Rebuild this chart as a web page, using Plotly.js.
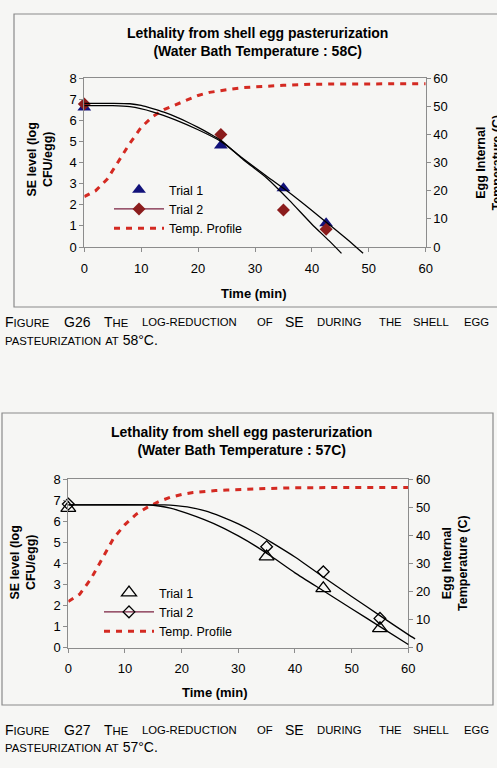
<!DOCTYPE html>
<html><head><meta charset="utf-8">
<script src="https://cdn.plot.ly/plotly-3.0.1.min.js"></script>
<style>html,body{margin:0;padding:0;background:#f6f6f4;}#chart{width:497px;height:768px;}</style>
</head><body><div id="chart"></div>
<script>
// ---------- Figure G26 : water bath 58C ----------
const g26Trial1Time = [0, 24, 35, 42.5];
const g26Trial1Log = [6.6, 4.8, 2.78, 1.12];
const g26Trial2Time = [0, 24, 35, 42.5];
const g26Trial2Log = [6.77, 5.32, 1.75, 0.84];
const g26Fit1Time = [0, 5, 8, 12, 16, 20, 24, 28, 32, 36, 40, 44, 47, 49];
const g26Fit1Log = [6.69, 6.69, 6.64, 6.4, 6.02, 5.55, 5.0, 4.17, 3.36, 2.58, 1.73, 0.85, 0.18, -0.3];
const g26Fit2Time = [0, 5, 8, 10, 12, 14, 16, 18, 20, 22, 24, 28, 32, 36, 40, 43, 45.2];
const g26Fit2Log = [6.8, 6.8, 6.78, 6.7, 6.55, 6.38, 6.17, 5.93, 5.66, 5.37, 5.05, 4.12, 3.28, 2.22, 1.08, 0.3, -0.3];
const g26TempTime = [0, 2, 4, 6, 8, 10, 12, 14, 16, 18, 20, 22, 24, 26, 28, 30, 35, 40, 45, 50, 55, 60];
const g26Temp = [17.9, 20, 24, 30.3, 36.8, 42.5, 46.3, 48.8, 50.5, 52.3, 53.8, 54.9, 55.6, 56.1, 56.6, 56.9, 57.4, 57.8, 57.9, 58, 58, 58];

// ---------- Figure G27 : water bath 57C ----------
const g27Trial1Time = [0, 35, 45, 55];
const g27Trial1Log = [6.62, 4.32, 2.81, 0.92];
const g27Trial2Time = [0, 35, 45, 55];
const g27Trial2Log = [6.81, 4.79, 3.6, 1.39];
const g27Fit1Time = [0, 14, 16, 18, 21, 24, 27, 30, 33, 36, 40, 45, 50, 55, 60];
const g27Fit1Log = [6.77, 6.77, 6.72, 6.62, 6.37, 6.07, 5.72, 5.3, 4.83, 4.3, 3.55, 2.7, 1.85, 1.0, 0.15];
const g27Fit2Time = [0, 17, 19, 21, 24, 27, 30, 33, 36, 40, 45, 50, 55, 60, 61.2];
const g27Fit2Log = [6.77, 6.77, 6.74, 6.68, 6.5, 6.22, 5.87, 5.45, 4.97, 4.3, 3.35, 2.43, 1.52, 0.62, 0.42];
const g27TempTime = [0, 2, 4, 6, 8, 10, 12, 14, 16, 18, 20, 22, 24, 26, 28, 30, 35, 40, 45, 50, 55, 60];
const g27Temp = [16.4, 19, 24.5, 32, 39, 43.8, 47.5, 50, 52, 53.5, 54.5, 55.2, 55.6, 55.9, 56.1, 56.3, 56.6, 56.9, 57, 57, 57, 57];

// ---------- text ----------
const legendNames = ['Trial 1', 'Trial 2', 'Temp. Profile'];
const chartTitle1 = 'Lethality from shell egg pasterurization';
const g26Title2 = '(Water Bath Temperature : 58C)';
const g27Title2 = '(Water Bath Temperature : 57C)';
const xTitle = 'Time (min)';
const yLeftTitle = 'SE level (log<br>CFU/egg)';
const yRightTitle = 'Egg Internal<br>Temperature (C)';
const captionWords = ['Figure', '#', 'The', 'log-reduction', 'of', 'SE', 'during', 'the', 'shell', 'egg'];
const g26Label = 'G26', g27Label = 'G27';
const g26Line2 = ['pasteurization at ', '58°C.'];
const g27Line2 = ['pasteurization at ', '57°C.'];
const xTicks = [0, 10, 20, 30, 40, 50, 60];
const yTicks = [0, 1, 2, 3, 4, 5, 6, 7, 8];
const tTicks = [0, 10, 20, 30, 40, 50, 60];

// ---------- layout helpers ----------
const W = 497, H = 768;
const F = 'Liberation Sans, Arial, sans-serif';
const px = v => v / W, py = v => 1 - v / H;
const P1 = {l: 84.3, r: 425.7, t: 78, b: 247};
const P2 = {l: 68.3, r: 408.3, t: 479, b: 647.7};
const EXT = 14;
const AX = '#8c8c8c';
const BG = '#f6f6f4';
const RED = '#d42a22';
const sep = (a) => a.flatMap(v => [v, null]);

const axBase = {showgrid: false, zeroline: false, showline: true, linecolor: AX, linewidth: 1,
  ticks: 'outside', ticklen: 4, tickcolor: AX, tickfont: {family: F, size: 13, color: '#000'}, fixedrange: true};

const data = [];
function addChart(xa, ya, ya2, xc, yc, legend, t1x, t1y, t2x, t2y, f1x, f1y, f2x, f2y, tx, ty, filled) {
  data.push({x: f1x, y: f1y, xaxis: xc, yaxis: yc, mode: 'lines', line: {color: '#000', width: 1.3, shape: 'spline', smoothing: 0.6}, showlegend: false, hoverinfo: 'skip'});
  data.push({x: f2x, y: f2y, xaxis: xc, yaxis: yc, mode: 'lines', line: {color: '#000', width: 1.3, shape: 'spline', smoothing: 0.6}, showlegend: false, hoverinfo: 'skip'});
  data.push({x: tx, y: ty, xaxis: xa, yaxis: ya2, mode: 'lines', name: legendNames[2], legend: legend,
    line: {color: RED, width: 3, dash: '6px,6px'}, legendrank: 3});
  data.push({x: t1x, y: t1y, xaxis: xa, yaxis: ya, mode: 'markers', name: legendNames[0], legend: legend, cliponaxis: false, legendrank: 1,
    marker: filled ? {symbol: 'triangle-up', size: 12, color: '#12127a'} : {symbol: 'triangle-up-open', size: 13, color: '#000', line: {width: 1.3, color: '#000'}}});
  data.push({x: sep(t2x), y: sep(t2y), xaxis: xa, yaxis: ya, mode: 'lines+markers', name: legendNames[1], legend: legend, cliponaxis: false, connectgaps: false, legendrank: 2,
    line: {color: '#7a2040', width: 1.3},
    marker: filled ? {symbol: 'diamond', size: 10, color: '#8b1c1c'} : {symbol: 'diamond-open', size: 9, color: '#000', line: {width: 1.3, color: '#000'}}});
}
addChart('x', 'y', 'y2', 'x3', 'y5', 'legend', g26Trial1Time, g26Trial1Log, g26Trial2Time, g26Trial2Log,
  g26Fit1Time, g26Fit1Log, g26Fit2Time, g26Fit2Log, g26TempTime, g26Temp, true);
addChart('x2', 'y3', 'y4', 'x4', 'y6', 'legend2', g27Trial1Time, g27Trial1Log, g27Trial2Time, g27Trial2Log,
  g27Fit1Time, g27Fit1Log, g27Fit2Time, g27Fit2Log, g27TempTime, g27Temp, false);

const ext1 = 8 * EXT / (P1.b - P1.t);
const ext2 = 60 * EXT / (P2.r - P2.l);
const hidden = {visible: false, fixedrange: true, showgrid: false, zeroline: false};

function ann(text, x, y, opts) {
  return Object.assign({text: text, x: px(x), y: py(y), xref: 'paper', yref: 'paper', showarrow: false,
    xanchor: 'center', yanchor: 'middle', font: {family: F, size: 12.5, color: '#000'}}, opts || {});
}
const sc = w => w.replace(/[a-z\-]+/g, m => '<span style="font-size:11.3px">' + m.toUpperCase() + '</span>');
const wordX = [3, 62, 102, 140, 255, 283, 315, 377, 411, 462];
function caption(label, line2, y1, y2) {
  const out = captionWords.map((w, i) => ann(w === '#' ? label : sc(w), wordX[i], y1,
    {xanchor: 'left', font: {family: F, size: 14, color: '#000'}}));
  out.push(ann(sc(line2[0]) + line2[1], 3, y2, {xanchor: 'left', font: {family: F, size: 14, color: '#000'}}));
  return out;
}
const annotations = [
  ann('<b>' + chartTitle1 + '</b><br><b>' + g26Title2 + '</b>', 257, 41.5, {font: {family: F, size: 14, color: '#000'}}),
  ann('<b>' + xTitle + '</b>', 254, 293, {font: {family: F, size: 13, color: '#000'}}),
  ann('<b>' + yLeftTitle + '</b>', 39.5, 160, {textangle: -90, font: {family: F, size: 12.5, color: '#000'}}),
  ann('<b>' + yRightTitle + '</b>', 489, 162.5, {textangle: -90, font: {family: F, size: 12.5, color: '#000'}}),
  ann('<b>' + chartTitle1 + '</b><br><b>' + g27Title2 + '</b>', 241, 441.2, {font: {family: F, size: 14, color: '#000'}}),
  ann('<b>' + xTitle + '</b>', 215, 692, {font: {family: F, size: 13, color: '#000'}}),
  ann('<b>' + yLeftTitle + '</b>', 22.5, 563, {textangle: -90, font: {family: F, size: 12.5, color: '#000'}}),
  ann('<b>' + yRightTitle + '</b>', 455, 563, {textangle: -90, font: {family: F, size: 12.5, color: '#000'}}),
  ...caption(g26Label, g26Line2, 322, 340),
  ...caption(g27Label, g27Line2, 730, 747)
];

const legBase = {xanchor: 'left', yanchor: 'top', bgcolor: 'rgba(0,0,0,0)', borderwidth: 0,
  font: {family: F, size: 12.5, color: '#000'}, itemwidth: 50, traceorder: 'normal', tracegroupgap: 0};

const layout = {
  width: W, height: H, margin: {l: 0, r: 0, t: 0, b: 0}, paper_bgcolor: BG, plot_bgcolor: 'rgba(0,0,0,0)',
  showlegend: true,
  xaxis: Object.assign({}, axBase, {domain: [px(P1.l), px(P1.r)], range: [0, 60], tickvals: xTicks, anchor: 'y', mirror: true, ticklabelstandoff: 5}),
  yaxis: Object.assign({}, axBase, {domain: [py(P1.b), py(P1.t)], range: [0, 8], tickvals: yTicks, anchor: 'x'}),
  yaxis2: Object.assign({}, axBase, {range: [0, 60], tickvals: tTicks, overlaying: 'y', side: 'right', anchor: 'x'}),
  xaxis2: Object.assign({}, axBase, {domain: [px(P2.l), px(P2.r)], range: [0, 60], tickvals: xTicks, anchor: 'y3', mirror: true, ticklabelstandoff: 5}),
  yaxis3: Object.assign({}, axBase, {domain: [py(P2.b), py(P2.t)], range: [0, 8], tickvals: yTicks, anchor: 'x2'}),
  yaxis4: Object.assign({}, axBase, {range: [0, 60], tickvals: tTicks, overlaying: 'y3', side: 'right', anchor: 'x2'}),
  xaxis3: Object.assign({}, hidden, {domain: [px(P1.l), px(P1.r)], range: [0, 60], anchor: 'y5'}),
  yaxis5: Object.assign({}, hidden, {domain: [py(P1.b + EXT), py(P1.t)], range: [-ext1, 8], anchor: 'x3'}),
  xaxis4: Object.assign({}, hidden, {domain: [px(P2.l), px(P2.r + EXT)], range: [0, 60 + ext2], anchor: 'y6'}),
  yaxis6: Object.assign({}, hidden, {domain: [py(P2.b), py(P2.t)], range: [0, 8], anchor: 'x4'}),
  legend: Object.assign({}, legBase, {x: px(109), y: py(175)}),
  legend2: Object.assign({}, legBase, {x: px(99), y: py(578)}),
  shapes: [
    {type: 'rect', xref: 'paper', yref: 'paper', x0: px(14), x1: px(530), y0: py(307), y1: py(14), line: {color: '#8a8a8a', width: 1.2}, layer: 'below'},
    {type: 'rect', xref: 'paper', yref: 'paper', x0: px(2), x1: px(493), y0: py(705), y1: py(413), line: {color: '#8a8a8a', width: 1.2}, layer: 'below'}
  ],
  annotations: annotations
};
Plotly.newPlot('chart', data, layout, {displayModeBar: false, staticPlot: true});
</script></body></html>
